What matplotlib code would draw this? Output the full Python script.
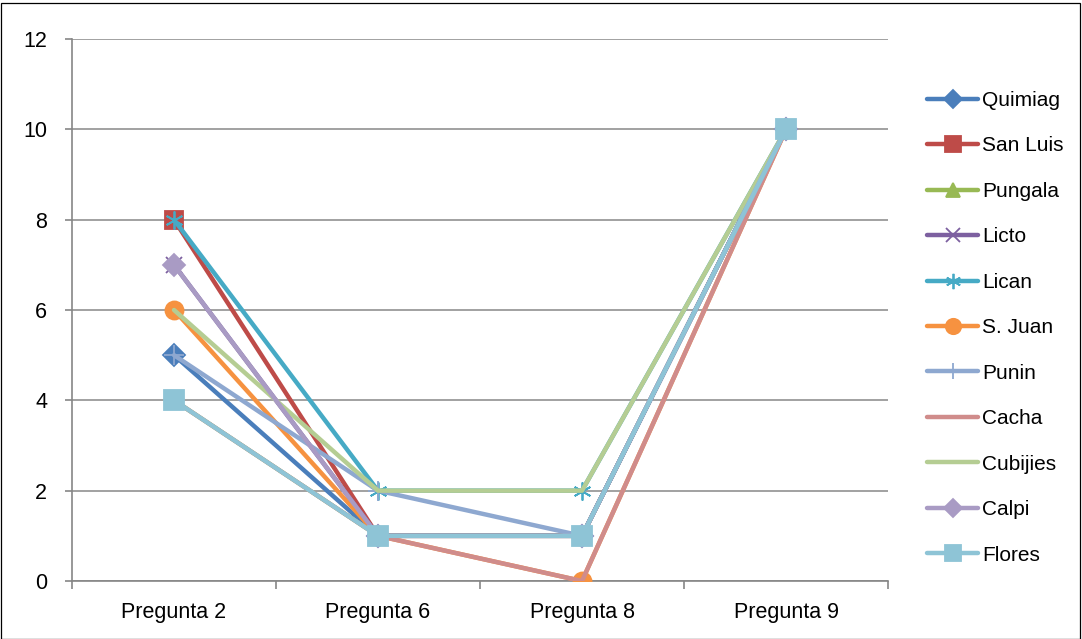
import matplotlib
matplotlib.use("Agg")
import matplotlib.pyplot as plt
from matplotlib.patches import Rectangle

plt.rcParams['font.family'] = ['Liberation Sans', 'DejaVu Sans']

categories = ["Pregunta 2", "Pregunta 6", "Pregunta 8", "Pregunta 9"]
series_names = ["Quimiag", "San Luis", "Pungala", "Licto", "Lican", "S. Juan",
                "Punin", "Cacha", "Cubijies", "Calpi", "Flores"]
quimiag = [5, 1, 1, 10]
san_luis = [8, 1, 1, 10]
pungala = [4, 1, 1, 10]
licto = [7, 1, 1, 10]
lican = [8, 2, 2, 10]
s_juan = [6, 1, 0, 10]
punin = [5, 2, 1, 10]
cacha = [4, 1, 0, 10]
cubijies = [6, 2, 2, 10]
calpi = [7, 1, 1, 10]
flores = [4, 1, 1, 10]
values = [quimiag, san_luis, pungala, licto, lican, s_juan,
          punin, cacha, cubijies, calpi, flores]

colors = ["#4A7EBB", "#BE4B48", "#98B954", "#7D60A0", "#46AAC5", "#F69240",
          "#8EA8D0", "#D08C8B", "#B5CD93", "#A99BC4", "#8EC4D6"]
markers = ["D", "s", "^", "x", (6, 2, 0), "o", "+", None, None, "D", "s"]
msizes = [11, 13, 12, 12, 13, 13, 14, 0, 0, 11, 14]

fig = plt.figure(figsize=(10.82, 6.39), dpi=100)
ax = fig.add_axes([72 / 1082, 1 - 581 / 639, (888 - 72) / 1082, (581 - 39) / 639])

x = list(range(len(categories)))
for name, vals, c, m, ms in zip(series_names, values, colors, markers, msizes):
    ax.plot(x, vals, color=c, lw=3.2, marker=m, markersize=ms,
            markerfacecolor=c, markeredgecolor=c, markeredgewidth=1.3,
            label=name, solid_capstyle="round", zorder=3)

ax.set_xlim(-0.5, 3.5)
ax.set_ylim(0, 12)
ax.set_yticks(range(0, 13, 2))
ax.set_xticks(x)
ax.set_xticklabels(categories)
ax.set_xticks([-0.5, 0.5, 1.5, 2.5, 3.5], minor=True)
ax.tick_params(axis="x", which="major", length=0, pad=15, labelsize=15.5)
ax.tick_params(axis="x", which="minor", length=6, color="#868686", width=1.2, direction="out")
ax.tick_params(axis="y", length=5, color="#868686", width=1.2, pad=13, labelsize=15.5)
ax.grid(axis="y", color="#878787", lw=1.1, zorder=0)
for s in ["top", "right"]:
    ax.spines[s].set_visible(False)
for s in ["left", "bottom"]:
    ax.spines[s].set_color("#868686")
    ax.spines[s].set_linewidth(1.2)

ax.legend(loc="upper left", bbox_to_anchor=(927 / 1082, 1 - 91 / 639),
          bbox_transform=fig.transFigure, frameon=False, fontsize=15,
          handlelength=2.45, handletextpad=0.2, labelspacing=1.27,
          markerscale=0.85, borderpad=0, borderaxespad=0)

fig.add_artist(Rectangle((0.5 / 1082, 0.5 / 639), 1 - 3 / 1082, 1 - 3 / 639,
                         transform=fig.transFigure, fill=False,
                         edgecolor="black", lw=0.9))

fig.savefig("out.png", dpi=100)
